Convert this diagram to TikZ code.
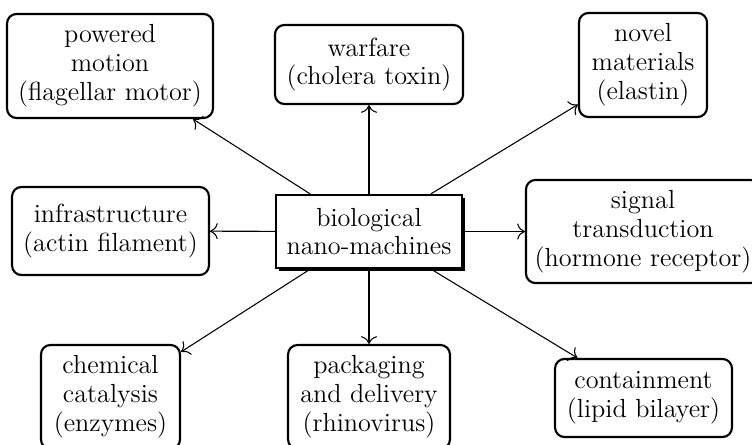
\documentclass[tikz,border=0pt]{standalone}
\usetikzlibrary{shadows,arrows.meta}
\begin{document}
\begin{tikzpicture}[x=0.42pt,y=-0.42pt,
  bx/.style={draw, line width=0.9pt, rounded corners=4pt, inner sep=0pt, align=center,
    font=\fontsize{11}{12.1}\selectfont},
  cbx/.style={draw, line width=0.9pt, inner sep=0pt, align=center, fill=white,
    font=\fontsize{11}{12.1}\selectfont,
    drop shadow={shadow xshift=1.2pt, shadow yshift=-1.2pt, fill=black, opacity=1}},
  arr/.style={-{To[scale=1.25]}, line width=0.45pt}]
\useasboundingbox (0,0) rectangle (752,445);
\node[bx, minimum width=86.5pt, minimum height=43.7pt] (pm) at (110,66) {powered\\motion\\(flagellar motor)};
\node[bx, minimum width=79pt, minimum height=33.2pt] (wf) at (369,64.5) {warfare\\(cholera toxin)};
\node[bx, minimum width=53.8pt, minimum height=43.7pt] (nm) at (643,65) {novel\\materials\\(elastin)};
\node[bx, minimum width=82.7pt, minimum height=37pt] (inf) at (110.5,231) {infrastructure\\(actin filament)};
\node[cbx, minimum width=78.1pt, minimum height=30.7pt] (ctr) at (369,231.5) {biological\\nano-machines};
\node[bx, minimum width=98.3pt, minimum height=43.3pt] (sig) at (643,231.5) {signal\\transduction\\(hormone receptor)};
\node[bx, minimum width=58.4pt, minimum height=43.7pt] (ch) at (110.5,397) {chemical\\catalysis\\(enzymes)};
\node[bx, minimum width=68pt, minimum height=43.7pt] (pk) at (369,397) {packaging\\and delivery\\(rhinovirus)};
\node[bx, minimum width=74.3pt, minimum height=32.8pt] (ct) at (643.5,398) {containment\\(lipid bilayer)};
\foreach \t in {pm,wf,nm,inf,sig,ch,pk,ct}
  \draw[arr] (ctr) -- (\t);
\end{tikzpicture}
\end{document}
